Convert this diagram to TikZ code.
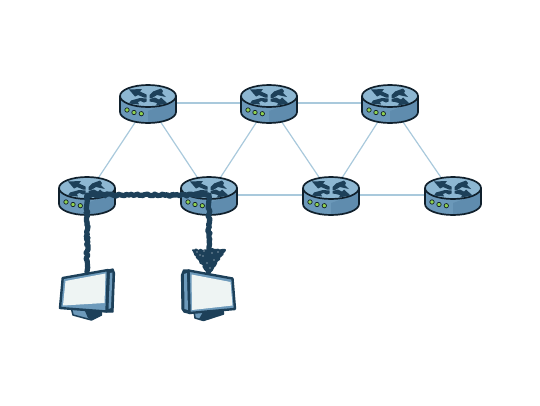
\documentclass[tikz,border=0pt]{standalone}
\usetikzlibrary{decorations.pathmorphing}
\definecolor{navy}{HTML}{1D4059}
\definecolor{rtop}{HTML}{8DB7D2}
\definecolor{rbody}{HTML}{6B98B9}
\definecolor{rbodyd}{HTML}{5F8CAE}
\definecolor{rline}{HTML}{A9C9DC}
\definecolor{rdark}{HTML}{10202C}
\definecolor{led}{HTML}{8FD14F}
\definecolor{scr}{HTML}{EEF4F3}
\definecolor{bez}{HTML}{6D9ABB}
\tikzset{
  slot/.style={inner sep=0pt,minimum width=56pt,minimum height=38pt},
  link/.style={draw=rline,line width=1.2pt},
  noisy/.style={draw=navy,line width=5.2pt,line join=round,line cap=round,decorate,decoration={random steps,segment length=2pt,amplitude=1.1pt}},
  noisy2/.style={draw=navy,line width=2pt,line join=round,line cap=round,decorate,decoration={random steps,segment length=2pt,amplitude=1.2pt}},
  monframe/.style={draw=navy,line width=2.4pt,line join=round,fill=bez},
  monside/.style={draw=navy,line width=1.2pt,line join=round,fill=navy},
  arrowblob/.style={fill=navy,draw=none},
  pics/router/.style={code={
    \path[fill=rbody] (-28,-7) -- (-28,9) arc[start angle=180,end angle=0,x radius=28,y radius=11] -- (28,-7) -- cycle;
    \fill[rbodyd] (0,20) arc[start angle=90,end angle=0,x radius=28,y radius=11] -- (28,-2) -- (0,8) -- cycle;
    \path[fill=rtop,draw=rdark,line width=1.7pt] (0,-7) ellipse[x radius=28,y radius=11];
    \path[draw=rdark,line width=1.7pt] (-28,-7) -- (-28,9) arc[start angle=180,end angle=0,x radius=28,y radius=11] -- (28,-7);
    % router arrows
    \fill[arrowblob] (-19,-13.5) -- (-6,-14) -- (-8,-11.5) -- (-1.5,-8.5) -- (-1.5,-5.5) -- (-4,-5.5) -- (-10,-8) -- (-13,-6.5) -- cycle;
    \fill[arrowblob] (13,-14.5) -- (5,-11.5) -- (1.5,-8) -- (1.5,-5) -- (4,-5) -- (9,-8) -- (18,-6) -- (14,-10) -- (15,-12) -- cycle;
    \fill[arrowblob] (-17,-2.5) -- (-8,-5) -- (-1.5,-4.5) -- (-1.5,-1.5) -- (-4,-0.5) -- (-7.5,-2) -- (-10,-1) -- (-9,1.5) -- (-19,0.5) -- cycle;
    \fill[arrowblob] (1.5,-4) -- (7,-5.5) -- (11,-3.5) -- (13,-5.5) -- (19.5,0.5) -- (8,2.5) -- (9,0) -- (5,-1) -- (1.5,-1.5) -- cycle;
    % leds
    \path[fill=led,draw=rdark,line width=.7pt] (-21,7) circle[radius=2.2] (-14,9.5) circle[radius=2.2] (-6.7,10.7) circle[radius=2.2];
  }}
}
\begin{document}
\begin{tikzpicture}[x=1pt,y=-1pt]
\useasboundingbox (0,0) rectangle (540,405);
\node[slot] (r1) at (148,103) {};
\node[slot] (r2) at (269,103) {};
\node[slot] (r3) at (390,103) {};
\node[slot] (b1) at (87,195) {};
\node[slot] (b2) at (209,195) {};
\node[slot] (b3) at (331,195) {};
\node[slot] (b4) at (453,195) {};
\coordinate (m1top) at (87,272);
\coordinate (m2tip) at (209,250);
\foreach \a/\b in {r1/r2,r2/r3,r1/b1,r1/b2,r2/b2,r2/b3,r3/b3,r3/b4,b1/b2,b2/b3,b3/b4}
  \draw[link] (\a.center) -- (\b.center);
\foreach \n in {r1,r2,r3,b1,b2,b3,b4}
  \pic at (\n.center) {router};
% monitor 1
\path[fill=bez,draw=navy,line width=1.5pt,line join=round] (71.5,309) -- (73,315) -- (91.5,320) -- (101.5,315) -- (101,308) -- cycle;
\path[fill=navy] (85,311) -- (101,309) -- (101.5,315) -- (91.5,320) -- (88,318) -- cycle;
\path[monside] (108,270) -- (113,269) -- (114.5,273) -- (113,312) -- (106,312) -- cycle;
\path[fill=bez] (110,273) -- (112.5,272.5) -- (111,308) -- (108.5,309) -- cycle;
\path[monframe] (62.7,278) -- (108,270) -- (106.5,311.5) -- (60,308) -- cycle;
\path[fill=scr] (65.5,281) -- (105.5,273.5) -- (104.5,303) -- (63,305.5) -- cycle;
% monitor 2
\path[fill=bez,draw=navy,line width=1.5pt,line join=round] (194,311) -- (195,318) -- (203.5,320.5) -- (223.5,314) -- (223,309) -- cycle;
\path[fill=navy] (203,312) -- (223,309) -- (223.5,314) -- (203.5,320.5) -- (199,319) -- cycle;
\path[monside] (183.5,270) -- (189,270) -- (190,313.5) -- (184,312) -- (182,309) -- (181.5,275) -- cycle;
\path[fill=bez] (184,274) -- (187,273) -- (188,310) -- (184.5,309) -- cycle;
\path[monframe] (188.5,270.5) -- (232.5,278.5) -- (235,309) -- (189.5,313) -- cycle;
\path[fill=scr] (191.5,274.5) -- (230.5,282) -- (232.5,305.5) -- (192,310) -- cycle;
% transfer path
\draw[noisy] (m1top) -- (b1.center) -- (b2.center) -- (m2tip);
% noisy head
\coordinate (hl) at (193,250);
\coordinate (hr) at (225,250);
\coordinate (ht) at (209,274);
\fill[navy] (hl) -- (hr) -- (ht) -- cycle;
\draw[noisy2] (hl) -- (hr) -- (ht) -- cycle;
\foreach \px/\py in {197/252,203/256,212/253,218/252,207/263,214/260,204/251,210/268,200/255}
  \fill[white!80!rline] (\px,\py) circle[radius=.55];
\end{tikzpicture}
\end{document}
